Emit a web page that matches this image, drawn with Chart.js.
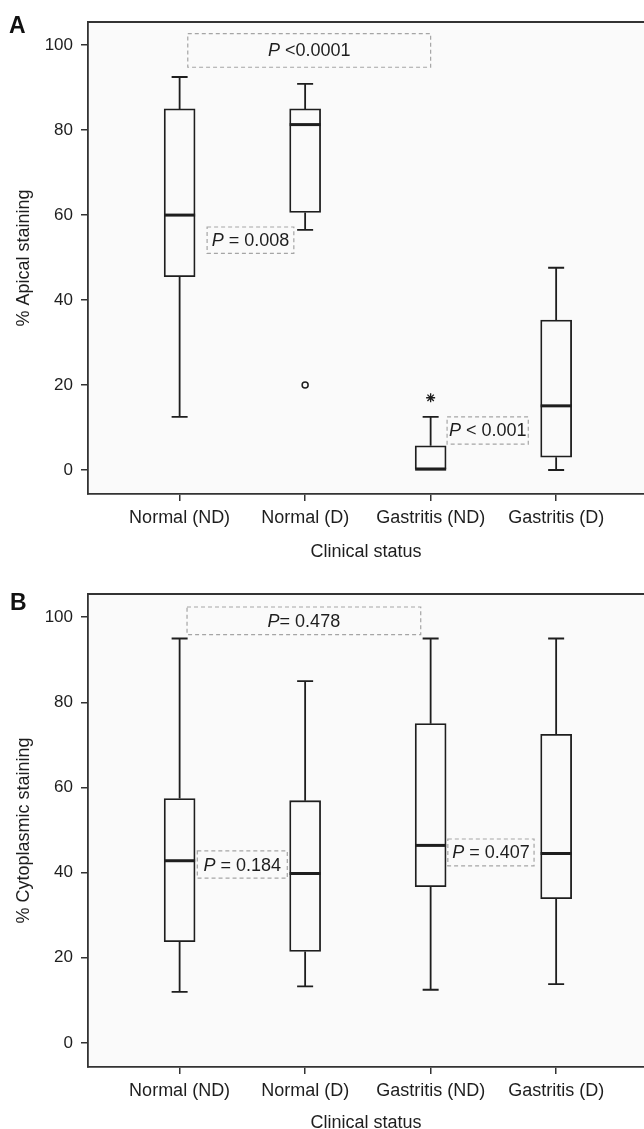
<!DOCTYPE html>
<html>
<head>
<meta charset="utf-8">
<script src="https://cdn.jsdelivr.net/npm/chart.js@4.4.1/dist/chart.umd.min.js"></script>
<style>
  body { margin: 0; background: #fff; }
  canvas { display: block; }
</style>
</head>
<body>
<canvas id="chartA" width="644" height="572"></canvas>
<canvas id="chartB" width="644" height="557"></canvas>
<script>
const categories = ['Normal (ND)', 'Normal (D)', 'Gastritis (ND)', 'Gastritis (D)'];
const yTicks = [0, 20, 40, 60, 80, 100];

// A: % apical staining
const apicalMin = [12.5, 56.5, 0, 0];
const apicalQ1 = [45.5, 60.6, 0, 3.0];
const apicalMedian = [60, 81.3, 0.2, 15.1];
const apicalQ3 = [85, 85, 5.7, 35.3];
const apicalMax = [92.5, 90.9, 12.5, 47.6];
const apicalOutliers = [{ x: 2, y: 20 }];
const apicalExtremes = [{ x: 3, y: 17 }];

// B: % cytoplasmic staining
const cytoMin = [12, 13.3, 12.5, 13.8];
const cytoQ1 = [23.8, 21.5, 36.7, 33.9];
const cytoMedian = [42.8, 39.8, 46.4, 44.5];
const cytoQ3 = [57.4, 56.9, 75, 72.5];
const cytoMax = [95, 85, 95, 95];

const FONT = '"Liberation Sans", Arial, Helvetica, sans-serif';
const INK = '#1e1e1e';
const BG = '#fafafa';

function boxExtras(stats, o) {
  return {
    id: 'boxExtras',
    beforeDraw(chart) {
      const a = chart.chartArea, ctx = chart.ctx;
      ctx.save();
      ctx.fillStyle = BG;
      ctx.fillRect(a.left, a.top, a.right - a.left, a.bottom - a.top);
      ctx.restore();
    },
    afterDatasetsDraw(chart) {
      const ctx = chart.ctx, x = chart.scales.x, y = chart.scales.y;
      ctx.save();
      ctx.strokeStyle = INK;
      stats.forEach(s => {
        const cx = x.getPixelForValue(s.x);
        const pMax = y.getPixelForValue(s.max), pQ3 = y.getPixelForValue(s.q3);
        const pMin = y.getPixelForValue(s.min), pQ1 = y.getPixelForValue(s.q1);
        const pMed = y.getPixelForValue(s.median);
        ctx.lineWidth = 1.8;
        ctx.beginPath();
        if (s.max > s.q3) {
          ctx.moveTo(cx, pQ3); ctx.lineTo(cx, pMax);
          ctx.moveTo(cx - 8, pMax); ctx.lineTo(cx + 8, pMax);
        }
        if (s.min < s.q1) {
          ctx.moveTo(cx, pQ1); ctx.lineTo(cx, pMin);
          ctx.moveTo(cx - 8, pMin); ctx.lineTo(cx + 8, pMin);
        }
        ctx.stroke();
        ctx.lineWidth = 3;
        ctx.beginPath();
        ctx.moveTo(cx - 15.5, pMed); ctx.lineTo(cx + 15.5, pMed);
        ctx.stroke();
      });

      // p-value labels in dashed boxes
      o.notes.forEach(n => {
        const x0 = x.getPixelForValue(n.x0), x1 = x.getPixelForValue(n.x1);
        const y0 = y.getPixelForValue(n.y1), y1 = y.getPixelForValue(n.y0);
        ctx.setLineDash([4, 3]);
        ctx.strokeStyle = '#a5a5a5';
        ctx.lineWidth = 1.2;
        ctx.strokeRect(x0, y0, x1 - x0, y1 - y0);
        ctx.setLineDash([]);
        ctx.fillStyle = INK;
        ctx.textBaseline = 'middle';
        ctx.textAlign = 'left';
        ctx.font = 'italic 18px ' + FONT;
        const w1 = ctx.measureText('P').width;
        ctx.font = '18px ' + FONT;
        const w2 = ctx.measureText(n.rest).width;
        const sx = (x0 + x1) / 2 - (w1 + w2) / 2, cy = (y0 + y1) / 2 + 1;
        ctx.font = 'italic 18px ' + FONT;
        ctx.fillText('P', sx, cy);
        ctx.font = '18px ' + FONT;
        ctx.fillText(n.rest, sx + w1, cy);
      });
      ctx.restore();
    },
    afterDraw(chart) {
      const a = chart.chartArea, ctx = chart.ctx;
      ctx.save();
      ctx.strokeStyle = '#333';
      ctx.lineWidth = 1.8;
      ctx.beginPath();
      ctx.moveTo(a.left, a.top); ctx.lineTo(a.right, a.top);
      ctx.stroke();
      ctx.fillStyle = '#111';
      ctx.font = 'bold 23px ' + FONT;
      ctx.textBaseline = 'alphabetic';
      ctx.fillText(o.letter, o.letterX, o.letterY);
      ctx.restore();
    }
  };
}

function makePanel(id, o) {
  const stats = categories.map((c, i) => ({
    x: i + 1, min: o.min[i], q1: o.q1[i], median: o.median[i], q3: o.q3[i], max: o.max[i]
  }));
  return new Chart(document.getElementById(id), {
    type: 'bar',
    data: {
      datasets: [
        {
          type: 'bar',
          data: stats.map(s => ({ x: s.x, y: [s.q1, s.q3] })),
          backgroundColor: BG,
          borderColor: INK,
          borderWidth: 1.8,
          borderSkipped: false,
          barThickness: 31
        },
        {
          type: 'scatter',
          data: o.outliers || [],
          pointStyle: 'circle',
          radius: 3,
          borderColor: INK,
          backgroundColor: BG,
          borderWidth: 1.5
        },
        {
          type: 'scatter',
          data: o.extremes || [],
          pointStyle: 'star',
          radius: 4.5,
          borderColor: INK,
          borderWidth: 1.3
        }
      ]
    },
    options: {
      responsive: false,
      animation: false,
      events: [],
      layout: { autoPadding: false, padding: { top: 22, left: 0, right: 0, bottom: 0 } },
      plugins: { legend: { display: false }, tooltip: { enabled: false } },
      scales: {
        x: {
          type: 'linear',
          offset: false,
          min: 0.27,
          max: 4.7,
          afterBuildTicks: s => { s.ticks = categories.map((c, i) => ({ value: i + 1 })); },
          afterFit: s => { s.height = o.xHeight; s.paddingLeft = 0; s.paddingRight = 0; },
          ticks: {
            callback: v => categories[Math.round(v) - 1],
            font: { family: FONT, size: 18 },
            color: INK,
            padding: 6,
            autoSkip: false,
            maxRotation: 0
          },
          grid: { offset: false, drawOnChartArea: false, drawTicks: true, tickLength: 7, color: '#333', lineWidth: 1.5 },
          border: { display: true, color: '#333', width: 1.8 },
          title: {
            display: true,
            text: 'Clinical status',
            color: INK,
            font: { family: FONT, size: 18, lineHeight: 1 },
            padding: { top: 0, bottom: o.titlePad }
          }
        },
        y: {
          min: -5.65,
          max: 105.45,
          afterBuildTicks: s => { s.ticks = yTicks.map(v => ({ value: v })); },
          afterFit: s => { s.width = 88; },
          ticks: { font: { family: FONT, size: 17 }, color: INK, padding: 8 },
          grid: { drawOnChartArea: false, drawTicks: true, tickLength: 7, color: '#333', lineWidth: 1.5 },
          border: { display: true, color: '#333', width: 1.8 },
          title: {
            display: true,
            text: o.yTitle,
            color: INK,
            font: { family: FONT, size: 18 },
            padding: { top: 13, bottom: 0 }
          }
        }
      }
    },
    plugins: [boxExtras(stats, o)]
  });
}

makePanel('chartA', {
  min: apicalMin, q1: apicalQ1, median: apicalMedian, q3: apicalQ3, max: apicalMax,
  outliers: apicalOutliers, extremes: apicalExtremes,
  yTitle: '% Apical staining',
  letter: 'A', letterX: 9, letterY: 33,
  xHeight: 78, titlePad: 11,
  notes: [
    { x0: 1.065, x1: 3.0, y0: 94.8, y1: 102.7, rest: ' <0.0001' },
    { x0: 1.219, x1: 1.91, y0: 51.0, y1: 57.2, rest: ' = 0.008' },
    { x0: 3.131, x1: 3.778, y0: 6.1, y1: 12.5, rest: ' < 0.001' }
  ]
});

makePanel('chartB', {
  min: cytoMin, q1: cytoQ1, median: cytoMedian, q3: cytoQ3, max: cytoMax,
  yTitle: '% Cytoplasmic staining',
  letter: 'B', letterX: 10, letterY: 38,
  xHeight: 62, titlePad: -3,
  notes: [
    { x0: 1.059, x1: 2.921, y0: 95.9, y1: 102.4, rest: '= 0.478' },
    { x0: 1.141, x1: 1.858, y0: 38.7, y1: 45.1, rest: ' = 0.184' },
    { x0: 3.137, x1: 3.824, y0: 41.6, y1: 47.9, rest: ' = 0.407' }
  ]
});
</script>
</body>
</html>
